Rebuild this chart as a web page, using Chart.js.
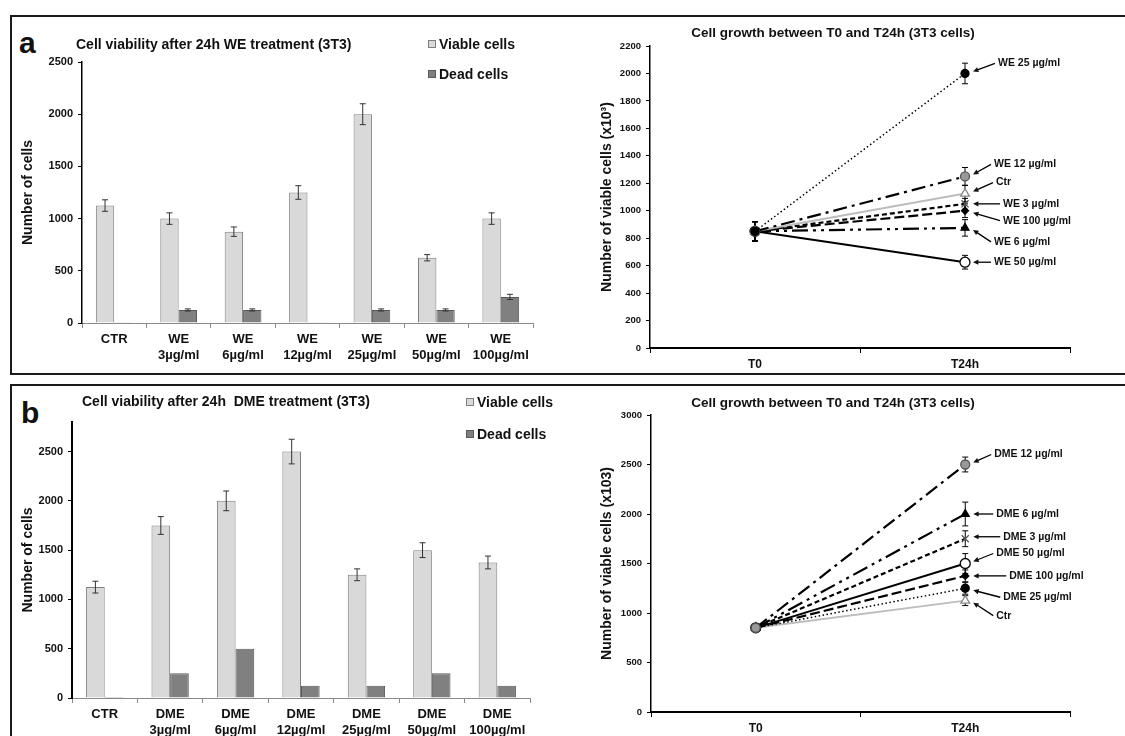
<!DOCTYPE html>
<html>
<head>
<meta charset="utf-8">
<script src="https://cdn.jsdelivr.net/npm/chart.js@4.4.1/dist/chart.umd.min.js"></script>
<style>
  body { margin: 0; width: 1125px; height: 736px; overflow: hidden; position: relative; background: #fff;
         font-family: "Liberation Sans", Arial, sans-serif; }
  .panel { position: absolute; border: 2px solid #1a1a1a; }
  .letter { position: absolute; font-weight: bold; font-size: 30px; color: #111; line-height: 1; }
  canvas { position: absolute; }
</style>
</head>
<body>
<div class="panel" style="left:10px;top:15px;width:1130px;height:356px;"></div>
<div class="panel" style="left:10px;top:384px;width:1130px;height:400px;"></div>
<div class="letter" style="left:19px;top:28px;">a</div>
<div class="letter" style="left:21px;top:398px;">b</div>
<canvas id="barWE" width="560" height="357" style="left:0;top:16px"></canvas>
<canvas id="lineWE" width="565" height="357" style="left:560px;top:16px"></canvas>
<canvas id="barDME" width="560" height="380" style="left:0;top:385px"></canvas>
<canvas id="lineDME" width="565" height="351" style="left:560px;top:385px"></canvas>
<script>
// bar charts: categories and values
const weCategories = ['CTR', ['WE', '3µg/ml'], ['WE', '6µg/ml'], ['WE', '12µg/ml'], ['WE', '25µg/ml'], ['WE', '50µg/ml'], ['WE', '100µg/ml']];
const weViable = [1125, 1000, 875, 1250, 2000, 625, 1000];
const weViableErr = [55, 55, 45, 65, 100, 30, 55];
const weDead = [8, 125, 125, 8, 125, 125, 250];
const weDeadErr = [0, 10, 10, 0, 10, 10, 25];
const weBarTicks = [0, 500, 1000, 1500, 2000, 2500];

const dmeCategories = ['CTR', ['DME', '3µg/ml'], ['DME', '6µg/ml'], ['DME', '12µg/ml'], ['DME', '25µg/ml'], ['DME', '50µg/ml'], ['DME', '100µg/ml']];
const dmeViable = [1125, 1750, 2000, 2500, 1250, 1500, 1375];
const dmeViableErr = [60, 90, 100, 125, 60, 75, 65];
const dmeDead = [10, 250, 500, 125, 125, 250, 125];
const dmeBarTicks = [0, 500, 1000, 1500, 2000, 2500];

// growth charts
const timePoints = ['T0', 'T24h'];
const weGrowthNames = ['WE 25 µg/ml', 'WE 12 µg/ml', 'Ctr', 'WE 3 µg/ml', 'WE 100 µg/ml', 'WE 6 µg/ml', 'WE 50 µg/ml'];
const weAtT0 = [850, 850, 850, 850, 850, 850, 850];
const weAtT24 = [2000, 1250, 1125, 1050, 1000, 875, 625];
const weErrT0 = [70, 70, 70, 70, 70, 70, 70];
const weErrT24 = [75, 65, 60, 40, 50, 60, 50];

const dmeGrowthNames = ['DME 12 µg/ml', 'DME 6 µg/ml', 'DME 3 µg/ml', 'DME 50 µg/ml', 'DME 100 µg/ml', 'DME 25 µg/ml', 'Ctr'];
const dmeAtT0 = [850, 850, 850, 850, 850, 850, 850];
const dmeAtT24 = [2500, 2000, 1750, 1500, 1375, 1250, 1125];
const dmeErrT0 = [35, 35, 35, 35, 35, 35, 35];
const dmeErrT24 = [75, 120, 80, 100, 60, 60, 50];

const FONT = '"Liberation Sans", Arial, sans-serif';

// line styles per treatment (kept apart from the data)
const styles = {
  '25':  { color: '#000', dash: [1.5, 2.5], width: 1.5, point: 'circle', r: 4, fill: '#000', edge: '#000' },
  '12':  { color: '#000', dash: [14, 5, 3, 5], width: 2.2, point: 'circle', r: 4.5, fill: '#999', edge: '#555' },
  'Ctr': { color: '#bdbdbd', dash: [], width: 2, point: 'triangle', r: 5, fill: '#fff', edge: '#888' },
  '3':   { color: '#000', dash: [5, 3], width: 2.2, point: 'crossRot', r: 5, fill: '#555', edge: '#555' },
  '100': { color: '#000', dash: [10, 4], width: 2.2, point: 'rectRot', r: 3.5, fill: '#000', edge: '#000' },
  '6':   { color: '#000', dash: [16, 5, 3, 5, 3, 5], width: 2.2, point: 'triangle', r: 4.5, fill: '#000', edge: '#000' },
  '50':  { color: '#000', dash: [], width: 2, point: 'circle', r: 5, fill: '#fff', edge: '#000' }
};
const weKeys = ['25', '12', 'Ctr', '3', '100', '6', '50'];
const dmeKeys = ['12', '6', '3', '50', '100', '25', 'Ctr'];
// label offsets from the T24h marker [dx, dy]
const weLabelOffsets = [[33, -10], [29, -12], [31, -11], [38, 0], [38, 10], [29, 14], [29, 0]];
const dmeLabelOffsets = [[29, -10], [31, 0], [38, -2], [31, -10], [44, 0], [38, 9], [31, 15]];

const errorBars = {
  id: 'errorBars',
  draw(chart, under) {
    const opts = chart.options.plugins.errorBars || {};
    if (!!opts.under !== under) return;
    const ctx = chart.ctx;
    const y = chart.scales.y;
    chart.data.datasets.forEach((ds, i) => {
      if (!ds.errors) return;
      const meta = chart.getDatasetMeta(i);
      ctx.save();
      ctx.strokeStyle = opts.color || '#333';
      ctx.lineWidth = 1;
      meta.data.forEach((el, j) => {
        const e = ds.errors[j];
        if (!e) return;
        const top = y.getPixelForValue(ds.data[j] + e);
        const bot = y.getPixelForValue(ds.data[j] - e);
        const x = el.x;
        ctx.beginPath();
        ctx.moveTo(x, top); ctx.lineTo(x, bot);
        ctx.moveTo(x - 3, top); ctx.lineTo(x + 3, top);
        ctx.moveTo(x - 3, bot); ctx.lineTo(x + 3, bot);
        ctx.stroke();
      });
      ctx.restore();
    });
  },
  beforeDatasetsDraw(chart) { this.draw(chart, true); },
  afterDatasetsDraw(chart) { this.draw(chart, false); }
};

const decor = {
  id: 'decor',
  afterDraw(chart) {
    const o = chart.options.plugins.decor;
    if (!o) return;
    const ctx = chart.ctx;
    const area = chart.chartArea;
    ctx.save();
    ctx.fillStyle = '#111';
    ctx.textBaseline = 'middle';
    ctx.font = 'bold ' + o.titleSize + 'px ' + FONT;
    ctx.textAlign = o.titleAlign;
    ctx.fillText(o.title, o.titleX, o.titleY);
    // y axis title
    ctx.save();
    ctx.translate(area.left - o.yTitleGap, (area.top + area.bottom) / 2);
    ctx.rotate(-Math.PI / 2);
    ctx.textAlign = 'center';
    ctx.font = 'bold ' + o.yTitleSize + 'px ' + FONT;
    ctx.fillText(o.yTitle, 0, 0);
    ctx.restore();
    // legend
    if (o.legend) {
      ctx.font = 'bold 14px ' + FONT;
      ctx.textAlign = 'left';
      chart.data.datasets.forEach((ds, i) => {
        const lx = o.legend.x, ly = o.legend.y + i * o.legend.gap;
        ctx.fillStyle = ds.backgroundColor;
        ctx.fillRect(lx, ly - 4, 8, 8);
        ctx.strokeStyle = ds.borderColor;
        ctx.lineWidth = 1;
        ctx.strokeRect(lx + 0.5, ly - 3.5, 7, 7);
        ctx.fillStyle = '#111';
        ctx.fillText(ds.label, lx + 11, ly + 1);
      });
    }
    // arrow labels
    if (o.offsets) {
      ctx.font = 'bold 10.5px ' + FONT;
      ctx.textAlign = 'left';
      ctx.strokeStyle = '#000';
      ctx.fillStyle = '#111';
      chart.data.datasets.forEach((ds, i) => {
        const pt = chart.getDatasetMeta(i).data[1];
        const [dx, dy] = o.offsets[i];
        const tx = pt.x + dx, ty = pt.y + dy;
        ctx.fillText(ds.label, tx, ty);
        const sx = tx - 3, sy = ty;
        const ex = pt.x + 8, ey = pt.y + Math.sign(dy) * 2;
        const ang = Math.atan2(ey - sy, ex - sx);
        ctx.lineWidth = 1.3;
        ctx.beginPath();
        ctx.moveTo(sx, sy);
        ctx.lineTo(ex - Math.cos(ang) * 4, ey - Math.sin(ang) * 4);
        ctx.stroke();
        ctx.beginPath();
        ctx.moveTo(ex, ey);
        ctx.lineTo(ex - Math.cos(ang - 0.45) * 6, ey - Math.sin(ang - 0.45) * 6);
        ctx.lineTo(ex - Math.cos(ang + 0.45) * 6, ey - Math.sin(ang + 0.45) * 6);
        ctx.closePath();
        ctx.fill();
      });
    }
    ctx.restore();
  }
};

function barChart(id, cats, viable, viableErr, dead, deadErr, tickValues, cfg) {
  return new Chart(document.getElementById(id), {
    type: 'bar',
    data: {
      labels: cats,
      datasets: [
        { label: 'Viable cells', data: viable, errors: viableErr, backgroundColor: '#d9d9d9', borderColor: '#7f7f7f', borderWidth: 1 },
        { label: 'Dead cells', data: dead, errors: deadErr, backgroundColor: '#808080', borderColor: '#595959', borderWidth: 1 }
      ]
    },
    options: {
      responsive: false,
      animation: false,
      layout: { padding: cfg.padding },
      datasets: { bar: { categoryPercentage: 0.57, barPercentage: 1.0 } },
      plugins: {
        legend: { display: false },
        tooltip: { enabled: false },
        errorBars: { under: false, color: '#333' },
        decor: cfg.decor
      },
      scales: {
        x: {
          afterFit: s => { s.height = 46; },
          border: { color: '#8a8a8a', width: 1 },
          grid: { drawOnChartArea: false, tickLength: 5, color: '#8a8a8a' },
          ticks: { color: '#111', font: { family: FONT, weight: 'bold', size: 13 }, padding: 4, maxRotation: 0 }
        },
        y: {
          min: 0, max: cfg.max,
          afterFit: s => { s.width = 40; },
          afterBuildTicks: s => { s.ticks = tickValues.map(v => ({ value: v })); },
          border: { color: '#000', width: cfg.yBorder },
          grid: { drawOnChartArea: false, tickLength: 4, color: '#000' },
          ticks: { color: '#111', font: { family: FONT, weight: 'bold', size: 11 }, padding: 5,
                   callback: v => String(v) }
        }
      }
    },
    plugins: [errorBars, decor]
  });
}

function lineChart(id, names, keys, t0, t24, err0, err24, cfg) {
  return new Chart(document.getElementById(id), {
    type: 'line',
    data: {
      labels: timePoints,
      datasets: names.map((name, i) => {
        const st = styles[keys[i]];
        return {
          label: name,
          data: [t0[i], t24[i]],
          errors: [err0[i], err24[i]],
          borderColor: st.color,
          borderWidth: st.width,
          borderDash: st.dash,
          pointStyle: st.point,
          pointRadius: st.r,
          pointBackgroundColor: st.fill,
          pointBorderColor: st.edge,
          pointBorderWidth: 1.3,
          fill: false
        };
      })
    },
    options: {
      responsive: false,
      animation: false,
      layout: { padding: cfg.padding },
      plugins: {
        legend: { display: false },
        tooltip: { enabled: false },
        errorBars: { under: true, color: '#000' },
        decor: cfg.decor
      },
      scales: {
        x: {
          offset: true,
          afterFit: s => { s.height = 22; },
          border: { color: '#000', width: 2 },
          grid: { offset: true, drawOnChartArea: false, tickLength: 5, color: '#000' },
          ticks: { color: '#111', font: { family: FONT, weight: 'bold', size: 12 }, padding: 4 }
        },
        y: {
          min: 0, max: cfg.max,
          afterFit: s => { s.width = 40; },
          border: { color: '#000', width: 1.5 },
          grid: { drawOnChartArea: false, tickLength: 4, color: '#000' },
          ticks: { stepSize: cfg.step, color: '#111', font: { family: FONT, weight: 'bold', size: 9.5 }, padding: 5,
                   callback: v => String(v) }
        }
      }
    },
    plugins: [errorBars, decor]
  });
}

barChart('barWE', weCategories, weViable, weViableErr, weDead, weDeadErr, weBarTicks, {
  max: 2500, yBorder: 1.5,
  padding: { left: 42, right: 27, top: 46, bottom: 4 },
  decor: { title: 'Cell viability after 24h WE treatment (3T3)', titleSize: 14, titleAlign: 'left', titleX: 76, titleY: 29,
           yTitle: 'Number of cells', yTitleSize: 14, yTitleGap: 54, legend: { x: 428, y: 28, gap: 30 } }
});

lineChart('lineWE', weGrowthNames, weKeys, weAtT0, weAtT24, weErrT0, weErrT24, {
  max: 2200, step: 200,
  padding: { left: 50, right: 55, top: 30, bottom: 3 },
  decor: { title: 'Cell growth between T0 and T24h (3T3 cells)', titleSize: 13.5, titleAlign: 'center', titleX: 273, titleY: 17,
           yTitle: 'Number of viable cells (x10³)', yTitleSize: 14, yTitleGap: 43, offsets: weLabelOffsets }
});

barChart('barDME', dmeCategories, dmeViable, dmeViableErr, dmeDead, null, dmeBarTicks, {
  max: 2800, yBorder: 2,
  padding: { left: 32, right: 30, top: 37, bottom: 21 },
  decor: { title: 'Cell viability after 24h  DME treatment (3T3)', titleSize: 14, titleAlign: 'left', titleX: 82, titleY: 17,
           yTitle: 'Number of cells', yTitleSize: 14, yTitleGap: 44, legend: { x: 466, y: 17, gap: 32 } }
});

lineChart('lineDME', dmeGrowthNames, dmeKeys, dmeAtT0, dmeAtT24, dmeErrT0, dmeErrT24, {
  max: 3000, step: 500,
  padding: { left: 51, right: 55, top: 30, bottom: 2 },
  decor: { title: 'Cell growth between T0 and T24h (3T3 cells)', titleSize: 13.5, titleAlign: 'center', titleX: 273, titleY: 18,
           yTitle: 'Number of viable cells (x103)', yTitleSize: 14, yTitleGap: 44, offsets: dmeLabelOffsets }
});
</script>
</body>
</html>
